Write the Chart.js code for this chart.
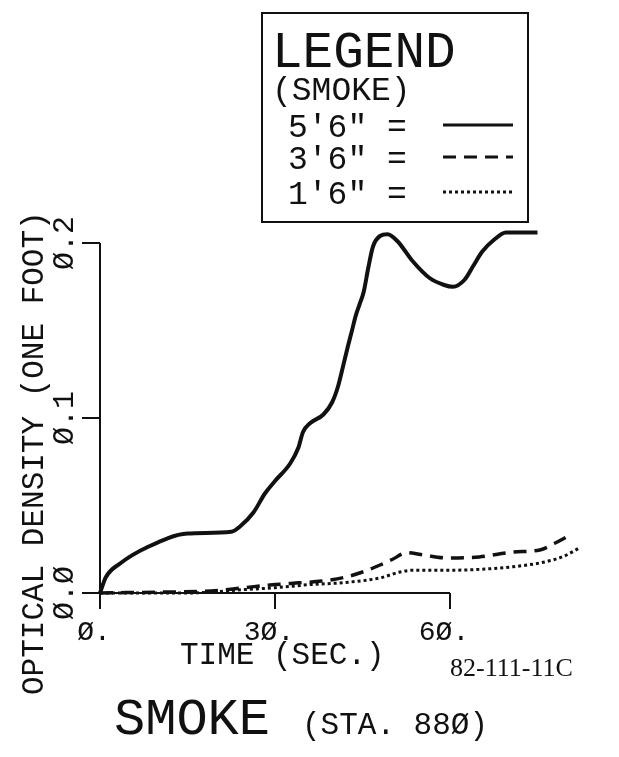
<!DOCTYPE html>
<html lang="en">
<head>
    <meta charset="UTF-8">
    <title>SMOKE (STA. 880)</title>
    <script src="https://cdn.jsdelivr.net/npm/chart.js"></script>
    <style>
        body {
            margin: 0;
            background-color: #ffffff;
        }
        #wrap {
            position: relative;
            width: 619px;
            height: 757px;
        }
    </style>
</head>
<body>
    <div id="wrap">
        <canvas id="smokeChart" width="619" height="757"></canvas>
    </div>

    <script>
        // optical density per foot vs. time, one pair of arrays per sensor height
        const time56 = [0, 1, 3.5, 8, 15, 22.5, 24, 26.3, 28.3, 30, 32.6, 34, 34.8, 36, 38.3, 39.8, 40.8, 41.7, 42.5, 43.2, 43.8, 44.5, 45.2, 46, 46.8, 48, 49.3, 51, 53.5, 56.5, 59, 60.5, 62.5, 64, 65.5, 67.5, 69.6, 75];
        const dens56 = [0, 0.009, 0.017, 0.026, 0.034, 0.035, 0.038, 0.046, 0.057, 0.064, 0.074, 0.083, 0.092, 0.097, 0.102, 0.109, 0.118, 0.130, 0.141, 0.150, 0.158, 0.165, 0.172, 0.186, 0.198, 0.204, 0.205, 0.201, 0.190, 0.180, 0.176, 0.175, 0.179, 0.187, 0.195, 0.2017, 0.206, 0.206];

        const time36 = [0, 10, 18, 22, 26, 30, 34, 38, 42, 45, 48, 50, 52.6, 55, 59.5, 65, 70.8, 75.4, 78.3, 80];
        const dens36 = [0, 0.0005, 0.001, 0.002, 0.0035, 0.0048, 0.0058, 0.0068, 0.009, 0.012, 0.016, 0.019, 0.023, 0.022, 0.020, 0.0206, 0.0234, 0.0246, 0.029, 0.032];

        const time16 = [0, 15, 25, 30, 36, 42, 48, 51.4, 53.7, 60, 65, 70.8, 76.6, 79.5, 82.3];
        const dens16 = [0, 0, 0.002, 0.003, 0.0048, 0.006, 0.0086, 0.012, 0.013, 0.013, 0.0135, 0.015, 0.018, 0.021, 0.026];

        const seriesNames = ['5\'6"', '3\'6"', '1\'6"'];

        const xTicks = [0, 30, 60];
        const xTickLabels = ['Ø.', '3Ø.', '6Ø.'];
        const yTicks = [0, 0.1, 0.2];
        const yTickLabels = ['Ø.Ø', 'Ø.1', 'Ø.2'];

        const MONO = '"Liberation Mono", "DejaVu Sans Mono", monospace';

        const toPoints = (ts, vs) => ts.map((t, i) => ({ x: t, y: vs[i] }));

        // hand-drawn style frame: axes, ticks, labels, legend box and captions
        const plotterFrame = {
            id: 'plotterFrame',
            beforeDatasetsDraw(chart) {
                const { ctx, scales: { x, y } } = chart;
                const x0 = x.getPixelForValue(0);
                const y0 = y.getPixelForValue(0);
                const yTop = y.getPixelForValue(yTicks[yTicks.length - 1]);
                const xEnd = x.getPixelForValue(xTicks[xTicks.length - 1]);

                ctx.save();
                ctx.strokeStyle = '#111';
                ctx.lineWidth = 2;
                ctx.beginPath();
                ctx.moveTo(x0, yTop);
                ctx.lineTo(x0, y0);
                ctx.lineTo(xEnd, y0);
                yTicks.forEach(v => {
                    const py = y.getPixelForValue(v);
                    ctx.moveTo(x0 - 18, py);
                    ctx.lineTo(x0, py);
                });
                xTicks.forEach(v => {
                    const px = x.getPixelForValue(v);
                    ctx.moveTo(px, y0);
                    ctx.lineTo(px, y0 + 16);
                });
                ctx.stroke();

                ctx.fillStyle = '#111';
                ctx.textAlign = 'center';
                ctx.textBaseline = 'alphabetic';
                ctx.font = '28px ' + MONO;
                xTicks.forEach((v, i) => {
                    ctx.fillText(xTickLabels[i], x.getPixelForValue(v) - 6, 640);
                });
                ctx.font = '30px ' + MONO;
                yTicks.forEach((v, i) => {
                    ctx.save();
                    ctx.translate(73, y.getPixelForValue(v));
                    ctx.rotate(-Math.PI / 2);
                    ctx.fillText(yTickLabels[i], 0, 0);
                    ctx.restore();
                });
                ctx.restore();
            },
            afterDraw(chart) {
                const { ctx } = chart;
                const sets = chart.data.datasets;
                ctx.save();
                ctx.fillStyle = '#111';
                ctx.strokeStyle = '#111';
                ctx.textAlign = 'left';
                ctx.textBaseline = 'alphabetic';

                // axis titles
                ctx.font = '31px ' + MONO;
                ctx.save();
                ctx.translate(43, 695);
                ctx.rotate(-Math.PI / 2);
                ctx.fillText('OPTICAL DENSITY (ONE FOOT)', 0, 0);
                ctx.restore();
                ctx.fillText('TIME (SEC.)', 180, 664);

                // chart caption
                ctx.font = '52px ' + MONO;
                ctx.fillText('SMOKE', 114, 734);
                ctx.font = '31px ' + MONO;
                ctx.fillText('(STA. 88Ø)', 302, 734);
                ctx.font = '26px "Liberation Serif", serif';
                ctx.fillText('82-111-11C', 450, 676);

                // legend box
                ctx.lineWidth = 2;
                ctx.strokeRect(262, 13, 266, 209);
                ctx.font = '51px ' + MONO;
                ctx.fillText('LEGEND', 272, 67);
                ctx.font = '33px ' + MONO;
                ctx.fillText('(SMOKE)', 272, 100);

                const rowY = [125, 157, 192];
                sets.forEach((ds, i) => {
                    ctx.fillText(seriesNames[i] + ' =', 288, rowY[i] + 12);
                    ctx.save();
                    ctx.lineWidth = Math.min(ds.borderWidth, 3);
                    ctx.setLineDash(ds.borderDash || []);
                    ctx.beginPath();
                    ctx.moveTo(443, rowY[i]);
                    ctx.lineTo(513, rowY[i]);
                    ctx.stroke();
                    ctx.restore();
                });
                ctx.restore();
            }
        };

        const lineStyle = {
            borderColor: '#111',
            pointRadius: 0,
            fill: false,
            cubicInterpolationMode: 'monotone',
            clip: false
        };

        new Chart(document.getElementById('smokeChart'), {
            type: 'line',
            data: {
                datasets: [
                    { ...lineStyle, label: seriesNames[0], data: toPoints(time56, dens56), borderWidth: 4 },
                    { ...lineStyle, label: seriesNames[1], data: toPoints(time36, dens36), borderWidth: 3.5, borderDash: [13, 8] },
                    { ...lineStyle, label: seriesNames[2], data: toPoints(time16, dens16), borderWidth: 3, borderDash: [3, 3] }
                ]
            },
            options: {
                responsive: false,
                animation: false,
                layout: {
                    padding: { left: 100, right: 29, top: 208, bottom: 164 }
                },
                scales: {
                    x: { type: 'linear', min: 0, max: 84, display: false },
                    y: { min: 0, max: 0.22, display: false }
                },
                plugins: {
                    legend: { display: false },
                    tooltip: { enabled: false }
                }
            },
            plugins: [plotterFrame]
        });
    </script>
</body>
</html>
